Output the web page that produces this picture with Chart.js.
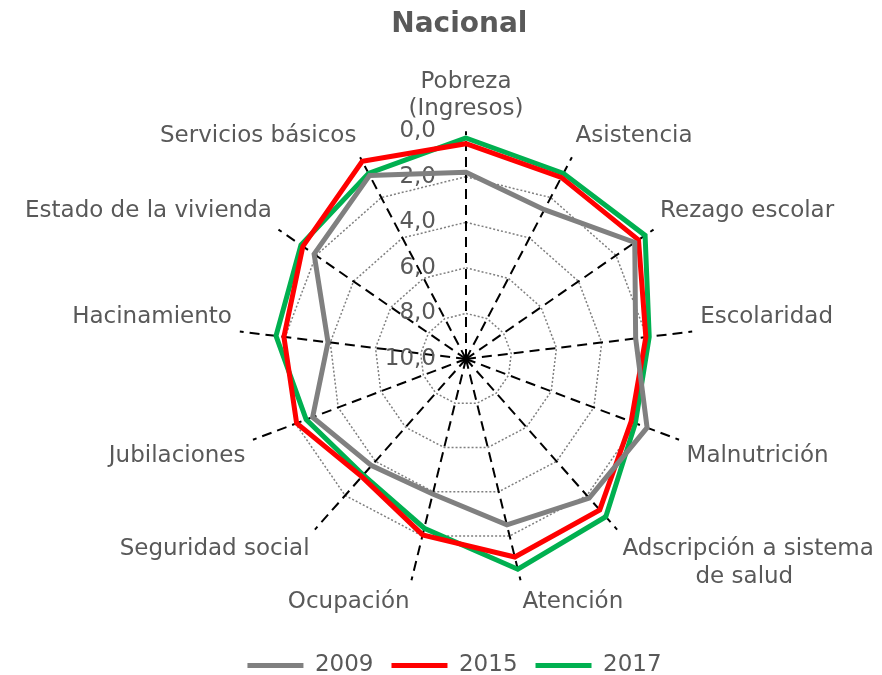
<!DOCTYPE html>
<html>
<head>
<meta charset="utf-8">
<script src="https://cdn.jsdelivr.net/npm/chart.js@4.4.1/dist/chart.umd.min.js"></script>
<style>
  html, body { margin: 0; padding: 0; background: #fff; }
  #wrap { width: 882px; height: 675px; }
</style>
</head>
<body>
<div id="wrap"><canvas id="radar"></canvas></div>
<script>
const categories = [
  ['Pobreza', '(Ingresos)'], 'Asistencia', 'Rezago escolar', 'Escolaridad', 'Malnutrición',
  ['Adscripción a sistema', '          de salud'], 'Atención', 'Ocupación', 'Seguridad social',
  'Jubilaciones', 'Hacinamiento', 'Estado de la vivienda', 'Servicios básicos'
];
const years = ['2009', '2015', '2017'];
const values2009 = [1.8, 2.6, 1.0, 2.5, 1.5, 1.85, 2.5, 3.9, 3.75, 2.8, 3.9, 1.9, 0.9];
const values2015 = [0.55, 1.0, 0.8, 2.05, 2.25, 1.15, 1.05, 2.05, 3.1, 2.05, 1.95, 1.3, 0.2];
const values2017 = [0.3, 0.8, 0.45, 1.9, 2.05, 0.75, 0.5, 2.35, 3.2, 2.5, 1.6, 1.2, 0.8];
const tickValues = [0, 2, 4, 6, 8, 10];

const colors = ['#808080', '#FF0000', '#00B050'];
const series = [values2009, values2015, values2017];
const FONT = '"DejaVu Sans", Verdana, sans-serif';
const TEXT = '#595959';

// tick labels sit left of the vertical spoke, right-aligned
const tickText = {
  id: 'tickText',
  beforeDatasetsDraw(chart) {
    const s = chart.scales.r;
    const ctx = chart.ctx;
    ctx.save();
    ctx.font = '23px ' + FONT;
    ctx.fillStyle = TEXT;
    ctx.textAlign = 'right';
    ctx.textBaseline = 'middle';
    tickValues.forEach(v => {
      const d = s.getDistanceFromCenterForValue(v);
      ctx.fillText(v.toFixed(1).replace('.', ','), s.xCenter - 30, s.yCenter - d);
    });
    ctx.restore();
  }
};

new Chart(document.getElementById('radar'), {
  type: 'radar',
  data: {
    labels: categories,
    datasets: years.map((y, i) => ({
      label: y,
      data: series[i],
      borderColor: colors[i],
      backgroundColor: colors[i],
      borderWidth: 5,
      borderCapStyle: 'round',
      pointRadius: 0,
      fill: false,
      tension: 0
    }))
  },
  options: {
    responsive: true,
    maintainAspectRatio: false,
    animation: false,
    layout: { padding: { top: 0, bottom: -12, left: -10, right: -37 } },
    plugins: {
      title: {
        display: true,
        text: ' Nacional',
        color: TEXT,
        font: { family: FONT, size: 28, weight: 'bold' },
        padding: { top: 8, bottom: 6 }
      },
      legend: {
        position: 'bottom',
        labels: {
          color: TEXT,
          font: { family: FONT, size: 23 },
          usePointStyle: true,
          pointStyle: 'line',
          pointStyleWidth: 56,
          padding: 18
        }
      },
      tooltip: { enabled: false }
    },
    scales: {
      r: {
        reverse: true,
        min: 0,
        max: 10,
        beginAtZero: true,
        afterBuildTicks: scale => { scale.ticks = scale.ticks.slice().reverse(); },
        ticks: { stepSize: 2, display: false },
        grid: {
          circular: false,
          color: '#7f7f7f',
          lineWidth: 1.5
        },
        border: { dash: [2, 2] },
        angleLines: {
          color: '#000',
          lineWidth: 2,
          borderDash: [10, 6]
        },
        pointLabels: {
          color: TEXT,
          font: { family: FONT, size: 23 },
          padding: 8
        }
      }
    }
  },
  plugins: [tickText]
});
</script>
</body>
</html>
